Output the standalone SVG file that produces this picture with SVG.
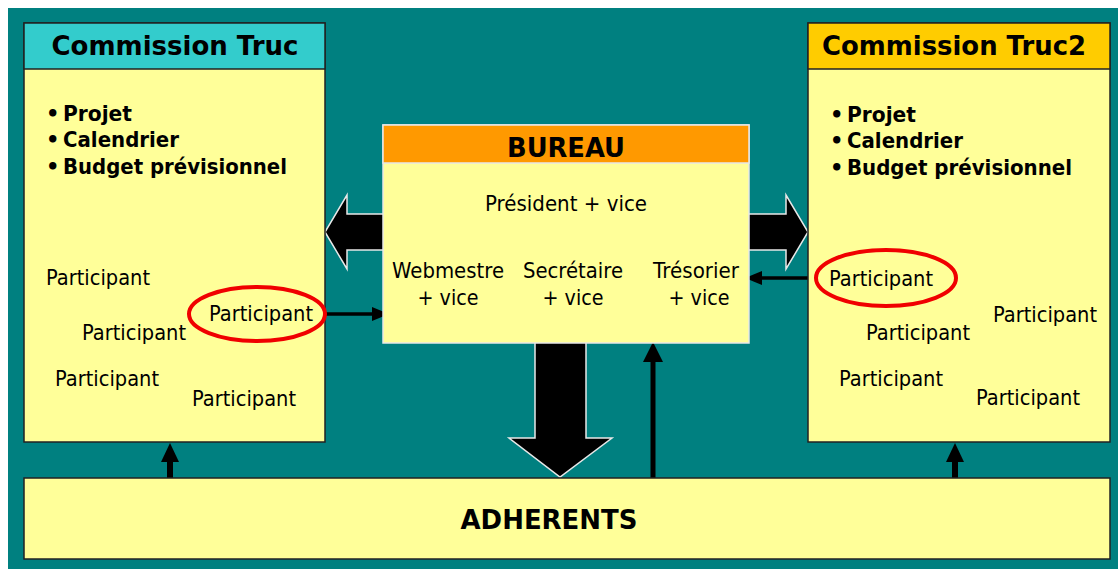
<svg xmlns="http://www.w3.org/2000/svg" width="1118" height="569" viewBox="0 0 1118 569">
<style>
.bg{fill:#008080}
.box{fill:#FFFF99;stroke:#222;stroke-width:1.5}
.bur{fill:#FFFF99;stroke:#E8E8E8;stroke-width:1.5}
.t{font-family:"DejaVu Sans","Liberation Sans",sans-serif;font-size:21px;fill:#000}
.b{font-family:"DejaVu Sans","Liberation Sans",sans-serif;font-size:21px;font-weight:bold;fill:#000}
.h{font-family:"DejaVu Sans","Liberation Sans",sans-serif;font-size:27px;font-weight:bold;fill:#000}
.blk{fill:#000;stroke:#E8E8E8;stroke-width:1.5}
.ln{stroke:#000;fill:none}
.hd{fill:#000}
.ell{fill:none;stroke:#F00000;stroke-width:4}
</style>
<rect x="8" y="8" width="1110" height="561" class="bg"/>
<g id="connectors">
  <polygon class="blk" points="384,214 347,214 347,195 325,232 347,269 347,250 384,250"/>
  <polygon class="blk" points="748,214 786,214 786,195 808,232 786,269 786,250 748,250"/>
  <polygon class="blk" points="535,342 586,342 586,438 612,438 560,477 509,438 535,438"/>
  <line class="ln" x1="653" y1="478" x2="653" y2="360" stroke-width="5"/>
  <polygon class="hd" points="653,342 643,362 663,362"/>
  <line class="ln" x1="170" y1="478" x2="170" y2="460" stroke-width="6"/>
  <polygon class="hd" points="170,443 161,462 179,462"/>
  <line class="ln" x1="955" y1="478" x2="955" y2="460" stroke-width="6"/>
  <polygon class="hd" points="955,443 946,462 964,462"/>
  <line class="ln" x1="325" y1="314" x2="374" y2="314" stroke-width="3.5"/>
  <polygon class="hd" points="389,314 372,307 372,321"/>
  <line class="ln" x1="817" y1="278" x2="760" y2="278" stroke-width="3.5"/>
  <polygon class="hd" points="745,278 762,271 762,285"/>
</g>
<g id="commission-truc">
  <rect x="24" y="23" width="301" height="419" class="box"/>
  <rect x="24" y="23" width="301" height="46" fill="#33CCCC" stroke="#222" stroke-width="1.5"/>
  <text x="175" y="55" class="h" text-anchor="middle" textLength="247" lengthAdjust="spacingAndGlyphs">Commission Truc</text>
  <text class="b" y="121"><tspan x="46">•</tspan><tspan x="63" textLength="69" lengthAdjust="spacingAndGlyphs">Projet</tspan></text>
  <text class="b" y="147"><tspan x="46">•</tspan><tspan x="63" textLength="116" lengthAdjust="spacingAndGlyphs">Calendrier</tspan></text>
  <text class="b" y="174"><tspan x="46">•</tspan><tspan x="63" textLength="224" lengthAdjust="spacingAndGlyphs">Budget prévisionnel</tspan></text>
  <text class="t" x="46" y="285" textLength="104" lengthAdjust="spacingAndGlyphs">Participant</text>
  <text class="t" x="82" y="340" textLength="104" lengthAdjust="spacingAndGlyphs">Participant</text>
  <text class="t" x="55" y="386" textLength="104" lengthAdjust="spacingAndGlyphs">Participant</text>
  <text class="t" x="192" y="406" textLength="104" lengthAdjust="spacingAndGlyphs">Participant</text>
  <ellipse cx="257" cy="314" rx="68" ry="27" class="ell"/>
  <text class="t" x="209" y="321" textLength="104" lengthAdjust="spacingAndGlyphs">Participant</text>
</g>
<g id="commission-truc2">
  <rect x="808" y="23" width="302" height="419" class="box"/>
  <rect x="808" y="23" width="302" height="46" fill="#FFCC00" stroke="#222" stroke-width="1.5"/>
  <text x="954" y="55" class="h" text-anchor="middle" textLength="264" lengthAdjust="spacingAndGlyphs">Commission Truc2</text>
  <text class="b" y="122"><tspan x="830">•</tspan><tspan x="847" textLength="69" lengthAdjust="spacingAndGlyphs">Projet</tspan></text>
  <text class="b" y="148"><tspan x="830">•</tspan><tspan x="847" textLength="116" lengthAdjust="spacingAndGlyphs">Calendrier</tspan></text>
  <text class="b" y="175"><tspan x="830">•</tspan><tspan x="847" textLength="225" lengthAdjust="spacingAndGlyphs">Budget prévisionnel</tspan></text>
  <ellipse cx="886" cy="278" rx="70" ry="28" class="ell"/>
  <text class="t" x="829" y="286" textLength="104" lengthAdjust="spacingAndGlyphs">Participant</text>
  <text class="t" x="866" y="340" textLength="104" lengthAdjust="spacingAndGlyphs">Participant</text>
  <text class="t" x="993" y="322" textLength="104" lengthAdjust="spacingAndGlyphs">Participant</text>
  <text class="t" x="839" y="386" textLength="104" lengthAdjust="spacingAndGlyphs">Participant</text>
  <text class="t" x="976" y="405" textLength="104" lengthAdjust="spacingAndGlyphs">Participant</text>
</g>
<g id="bureau">
  <rect x="383" y="125" width="366" height="218" class="bur"/>
  <rect x="383" y="125" width="366" height="38" fill="#FF9900" stroke="#E8E8E8" stroke-width="1.5"/>
  <text x="566" y="157" class="h" text-anchor="middle" textLength="118" lengthAdjust="spacingAndGlyphs">BUREAU</text>
  <text x="566" y="211" class="t" text-anchor="middle" textLength="162" lengthAdjust="spacingAndGlyphs">Président + vice</text>
  <text x="448" y="278" class="t" text-anchor="middle" textLength="112" lengthAdjust="spacingAndGlyphs">Webmestre</text>
  <text x="448" y="305" class="t" text-anchor="middle" textLength="61" lengthAdjust="spacingAndGlyphs">+ vice</text>
  <text x="573" y="278" class="t" text-anchor="middle" textLength="100" lengthAdjust="spacingAndGlyphs">Secrétaire</text>
  <text x="573" y="305" class="t" text-anchor="middle" textLength="61" lengthAdjust="spacingAndGlyphs">+ vice</text>
  <text x="696" y="278" class="t" text-anchor="middle" textLength="86" lengthAdjust="spacingAndGlyphs">Trésorier</text>
  <text x="699" y="305" class="t" text-anchor="middle" textLength="61" lengthAdjust="spacingAndGlyphs">+ vice</text>
</g>
<g id="adherents">
  <rect x="24" y="478" width="1086" height="81" class="box"/>
  <text x="549" y="529" class="h" text-anchor="middle" textLength="177" lengthAdjust="spacingAndGlyphs">ADHERENTS</text>
</g>
</svg>
